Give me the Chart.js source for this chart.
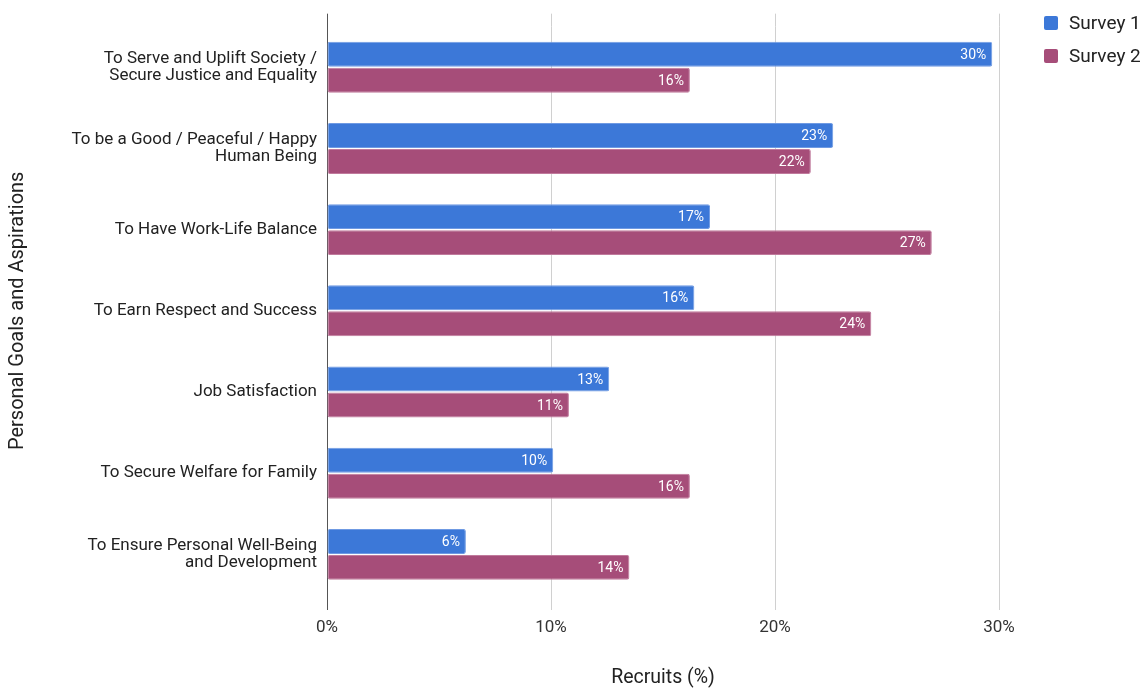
<!DOCTYPE html>
<html>
<head>
<meta charset="utf-8">
<script src="https://cdn.jsdelivr.net/npm/chart.js@4"></script>
<style>
  html, body { margin: 0; padding: 0; background: #fff; }
  #wrap { width: 1148px; height: 688px; }
</style>
</head>
<body>
<div id="wrap"><canvas id="goalsChart" width="1148" height="688"></canvas></div>
<script>
const goals = [
  ['To Serve and Uplift Society /', 'Secure Justice and Equality'],
  ['To be a Good / Peaceful / Happy', 'Human Being'],
  'To Have Work-Life Balance',
  'To Earn Respect and Success',
  'Job Satisfaction',
  'To Secure Welfare for Family',
  ['To Ensure Personal Well-Being', 'and Development']
];
const survey1 = [29.7, 22.6, 17.1, 16.4, 12.6, 10.1, 6.2];
const survey2 = [16.2, 21.6, 27.0, 24.3, 10.8, 16.2, 13.5];
const xTicks = [0, 10, 20, 30];

const FONT = 'Roboto, "Noto Sans", Arial, sans-serif';

// white percentage text at the end of each bar
const barLabels = {
  id: 'barLabels',
  afterDatasetsDraw(chart) {
    const ctx = chart.ctx;
    ctx.save();
    ctx.font = '14px ' + FONT;
    ctx.fillStyle = '#ffffff';
    ctx.textAlign = 'right';
    ctx.textBaseline = 'middle';
    chart.data.datasets.forEach((ds, i) => {
      chart.getDatasetMeta(i).data.forEach((bar, j) => {
        ctx.fillText(Math.round(ds.data[j]) + '%', bar.x - 6, bar.y + 1);
      });
    });
    ctx.restore();
  }
};

// vertical grid lines run a little above the plot
const gridTop = {
  id: 'gridTop',
  beforeDatasetsDraw(chart) {
    const ctx = chart.ctx;
    const x = chart.scales.x;
    const top = chart.chartArea.top;
    ctx.save();
    ctx.lineWidth = 1;
    x.ticks.forEach(t => {
      const px = Math.round(x.getPixelForValue(t.value)) + 0.5;
      ctx.strokeStyle = t.value === 0 ? '#555' : '#d0d0d0';
      ctx.beginPath();
      ctx.moveTo(px, top - 13);
      ctx.lineTo(px, top);
      ctx.stroke();
    });
    ctx.restore();
  }
};

// legend on the right, squares + series names
const sideLegend = {
  id: 'sideLegend',
  afterDraw(chart) {
    const ctx = chart.ctx;
    ctx.save();
    ctx.font = '19px ' + FONT;
    ctx.textBaseline = 'middle';
    ctx.textAlign = 'left';
    chart.data.datasets.forEach((ds, i) => {
      const cy = 23 + i * 33;
      ctx.fillStyle = ds.backgroundColor;
      ctx.beginPath();
      ctx.roundRect(1044, cy - 7, 14, 14, 2);
      ctx.fill();
      ctx.fillStyle = '#222';
      ctx.fillText(ds.label, 1069, cy + 1);
    });
    ctx.restore();
  }
};

new Chart(document.getElementById('goalsChart'), {
  type: 'bar',
  data: {
    labels: goals,
    datasets: [
      {
        label: 'Survey 1',
        data: survey1,
        backgroundColor: '#3c78d8',
        borderColor: '#6f9ae3',
        borderWidth: 1,
        borderRadius: 2,
        borderSkipped: false
      },
      {
        label: 'Survey 2',
        data: survey2,
        backgroundColor: '#a64d79',
        borderColor: '#c07a9c',
        borderWidth: 1,
        borderRadius: 2,
        borderSkipped: false
      }
    ]
  },
  options: {
    indexAxis: 'y',
    responsive: false,
    animation: false,
    categoryPercentage: 0.64,
    barPercentage: 0.96,
    layout: { padding: { top: 26, right: 149, left: 0, bottom: 0 } },
    plugins: {
      legend: { display: false },
      tooltip: { enabled: false }
    },
    scales: {
      x: {
        min: 0,
        max: 30,
        afterBuildTicks: s => { s.ticks = xTicks.map(v => ({ value: v })); },
        afterFit: s => { s.height = 93; },
        grid: {
          color: c => c.tick && c.tick.value === 0 ? '#555' : '#d0d0d0',
          tickColor: c => c.tick && c.tick.value === 0 ? '#555' : '#d0d0d0',
          tickLength: 15,
          drawTicks: true
        },
        border: { display: false },
        ticks: {
          padding: 8,
          color: '#333',
          font: { family: FONT, size: 17 },
          callback: v => v + '%'
        },
        title: {
          display: true,
          text: 'Recruits (%)',
          color: '#222',
          font: { family: FONT, size: 19.5 },
          padding: { top: 20, bottom: -2 }
        }
      },
      y: {
        afterFit: s => { s.width = 327; },
        grid: { display: false, drawTicks: false },
        border: { display: true, color: '#555', width: 1 },
        ticks: {
          padding: 10,
          color: '#222',
          font: { family: FONT, size: 17, lineHeight: 0.98 }
        },
        title: {
          display: true,
          text: 'Personal Goals and Aspirations',
          color: '#222',
          font: { family: FONT, size: 20 },
          padding: { top: 6, bottom: 0 }
        }
      }
    }
  },
  plugins: [barLabels, gridTop, sideLegend]
});
</script>
</body>
</html>
